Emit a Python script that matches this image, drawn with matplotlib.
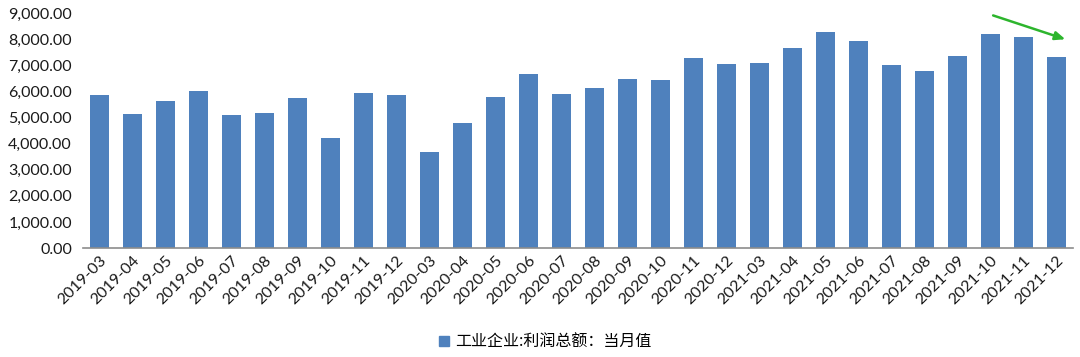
import matplotlib
matplotlib.use("Agg")
import matplotlib.pyplot as plt
from matplotlib.ticker import FuncFormatter
from matplotlib.patches import Patch

months = ["2019-03", "2019-04", "2019-05", "2019-06", "2019-07", "2019-08", "2019-09",
          "2019-10", "2019-11", "2019-12", "2020-03", "2020-04", "2020-05", "2020-06",
          "2020-07", "2020-08", "2020-09", "2020-10", "2020-11", "2020-12", "2021-03",
          "2021-04", "2021-05", "2021-06", "2021-07", "2021-08", "2021-09", "2021-10",
          "2021-11", "2021-12"]
profit = [5860, 5132, 5630, 6025, 5094, 5158, 5733, 4200, 5924, 5860,
          3677, 4775, 5796, 6652, 5885, 6128, 6460, 6422, 7277, 7047,
          7086, 7647, 8273, 7916, 7021, 6791, 7354, 8184, 8081, 7315]
yticks = [0, 1000, 2000, 3000, 4000, 5000, 6000, 7000, 8000, 9000]
legend_label = "工业企业:利润总额：当月值"

bar_color = "#4F81BD"
plt.rcParams['font.family'] = ['Lato', 'DejaVu Sans']

fig = plt.figure(figsize=(10.8, 3.57), dpi=100)
ax = fig.add_axes([0.0769, 0.3053, 0.9166, 0.6583])

x = list(range(len(months)))
ax.bar(x, profit, width=0.57, color=bar_color, zorder=2)
ax.set_xlim(-0.5, len(months) - 0.5)
ax.set_ylim(0, 9000)
ax.set_yticks(yticks)
ax.yaxis.set_major_formatter(FuncFormatter(lambda v, p: f"{v:,.2f}"))
ax.set_xticks(x)
ax.set_xticklabels(months, rotation=45, ha='right', rotation_mode='anchor')

for s in ['top', 'right', 'left']:
    ax.spines[s].set_visible(False)
ax.spines['bottom'].set_color('#8c8c8c')
ax.spines['bottom'].set_linewidth(1.2)
ax.tick_params(axis='both', length=0, labelsize=11.5, colors='#1a1a1a')
ax.tick_params(axis='y', pad=8)
ax.tick_params(axis='x', pad=4)

# green trend arrow
ax.annotate("", xy=(29.35, 7960), xytext=(27.0, 8940),
            arrowprops=dict(arrowstyle='-|>,head_length=0.6,head_width=0.25',
                            color='#2DB52D', lw=1.8),
            annotation_clip=False)

fig.legend(handles=[Patch(color=bar_color)], labels=[legend_label],
           loc='center', bbox_to_anchor=(0.505, 0.042), frameon=False,
           handlelength=0.6, handleheight=0.6, handletextpad=0.4,
           prop={'family': ['Noto Sans CJK SC'], 'size': 11.5})

fig.savefig("out.png", dpi=100)
